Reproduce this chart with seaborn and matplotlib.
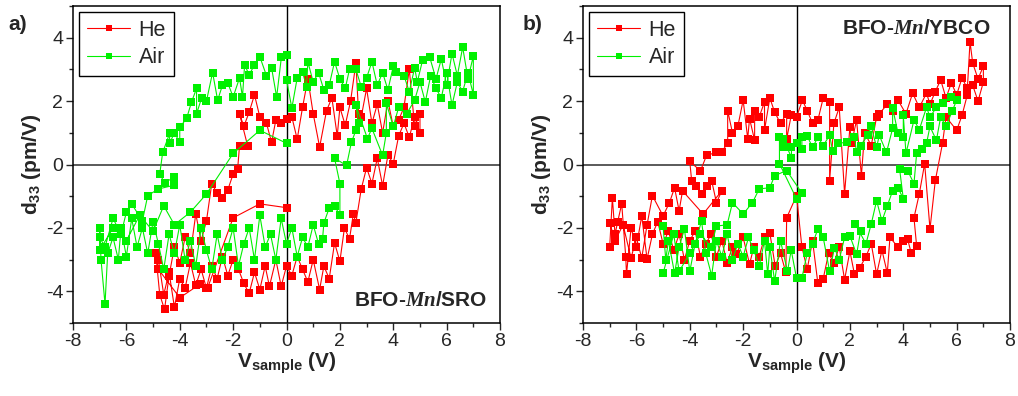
import numpy as np
import pandas as pd
import seaborn as sns
import matplotlib.pyplot as plt
from matplotlib.lines import Line2D
from matplotlib.ticker import MultipleLocator

# ---- panel a) BFO-Mn/SRO ----
a_he_v = [-4.8, -4.6, -4.4, -4.2, -4.0, -3.8, -3.6, -3.4, -3.2, -3.0, -2.8, -2.6, -2.4, -2.2, -2.0, -1.8,
          -1.6, -1.4, -1.2, -1.0, -0.8, -0.64, -0.4, -0.2, 0.0, 0.2, 0.4, 0.6, 0.8, 1.0, 1.24, 1.4, 1.6,
          1.8, 2.0, 2.17, 2.36, 2.5, 2.6, 2.8, 3.0, 3.2, 3.4, 3.6, 3.8, 4.0, 4.2, 4.4, 4.6, 4.8, 5.0,
          5.0, 4.8, 4.6, 4.4, 4.2, 4.0, 3.8, 3.6, 3.4, 3.2, 3.0, 2.8, 2.7, 2.6, 2.4, 2.2, 2.0, 1.9, 1.7,
          1.5, 1.24, 1.0, 0.8, 0.6, 0.4, 0.2, 0.0, -0.2, -0.4, -0.56, -0.75, -1.0, -1.2, -1.4, -1.6,
          -1.76, -1.46, -1.76, -1.83, -2.0, -2.2, -2.4, -2.6, -2.8, -3.0, -3.2, -3.4, -3.6, -3.8, -4.0,
          -4.2, -4.4, -4.57, -4.75, -4.9, -4.8, -4.0, -3.26, -2.96, -2.0, -1.0, 0.0]
a_he_d = [-3.0, -4.1, -3.4, -4.5, -3.6, -3.9, -3.1, -3.8, -3.3, -3.9, -3.2, -3.6, -2.9, -3.5, -3.0, -3.3,
          -3.75, -4.06, -3.4, -3.94, -3.2, -3.84, -3.0, -3.84, -3.2, -3.5, -2.9, -3.3, -3.7, -3.0, -3.94,
          -3.2, -3.6, -2.47, -3.05, -2.0, -2.35, -1.57, -1.83, -0.77, -0.1, -0.6, 0.2, -0.67, 0.3, 0.03,
          0.9, 1.3, 0.86, 1.5, 1.0,
          1.6, 1.2, 3.0, 1.8, 1.4, 1.2, 2.0, 1.0, 1.9, 1.3, 2.4, 1.5, 1.6, 3.2, 2.0, 1.24, 1.8, 0.9, 2.1,
          1.7, 0.55, 1.6, 2.7, 1.8, 0.8, 1.5, 1.45, 1.3, 1.4, 0.7, 1.3, 1.5, 2.2, 1.65, 1.2,
          1.6, 0.6, 0.6, -0.13, -0.3, -0.8, -1.05, -0.9, -0.6, -1.78, -2.4, -1.56, -2.8, -2.3, -3.1,
          -2.6, -3.5, -4.57, -4.1, -2.8, -3.3, -4.2, -3.78, -3.9, -1.68, -1.24, -1.36]

a_air_v = [0.0, -1.0, -2.0, -3.0, -3.6, -4.2, -4.6, -5.0, -5.5, -6.0, -6.5, -7.0,
           -7.0, -6.95, -6.8, -6.7, -6.5, -6.3, -6.2, -6.0, -5.8, -5.6, -5.4, -5.2, -5.0, -4.8, -4.6,
           -4.4, -4.2, -4.0, -3.8, -3.6, -3.4, -3.2, -3.0, -2.8, -2.6, -2.4, -2.2, -2.0, -1.8, -1.6,
           -1.4, -1.2, -1.0, -0.8, -0.6, -0.4, -0.2, 0.0, 0.2, 0.4, 0.6, 0.8, 1.0, 1.2, 1.35, 1.4, 1.6,
           1.8, 2.0, 2.0, 1.8, 2.25, 2.43, 2.6, 2.7, 2.6, 3.03, 3.2, 3.6, 3.74, 3.74, 4.0, 4.2, 4.5, 4.8,
           5.0, 5.2, 5.4, 5.6, 5.8, 6.0, 6.2, 6.4, 6.6, 6.8, 7.0,
           7.0, 6.8, 6.6, 6.4, 6.2, 6.0, 5.8, 5.6, 5.36, 5.1, 4.9, 4.8, 4.6, 4.4, 4.1, 4.0, 3.8, 3.6,
           3.4, 3.2, 3.0, 2.8, 2.6, 2.36, 2.2, 2.0, 1.8, 1.6, 1.4, 1.2, 1.0, 0.8, 0.75, 0.6, 0.4, 0.2,
           0.0, 0.0, -0.19, -0.37, -0.56, -0.75, -1.0, -1.2, -1.4, -1.57, -1.65, -1.76, -2.0, -2.2, -2.4,
           -2.58, -2.77, -3.0, -3.18, -3.37, -3.37, -3.56, -3.74, -4.0, -4.0, -4.2, -4.38, -4.38, -4.64,
           -4.75, -4.57, -4.2, -4.2, -4.8, -5.2, -5.4, -5.8, -6.0, -6.2, -6.5, -6.8, -7.0]
a_air_d = [0.67, 1.08, 0.35, -0.93, -1.5, -1.9, -1.3, -2.1, -1.6, -2.4, -2.0, -2.7,
           -2.0, -3.0, -4.4, -2.8, -2.3, -3.0, -2.0, -2.9, -1.7, -2.6, -2.0, -2.8, -1.8, -2.5, -3.3,
           -2.2, -2.8, -1.9, -3.0, -2.4, -3.2, -2.0, -2.7, -3.3, -2.2, -3.0, -2.6, -2.0, -3.2, -2.5,
           -2.0, -3.0, -1.6, -2.6, -2.2, -3.0, -1.7, -2.5, -2.0, -2.9, -2.3, -2.6, -1.9, -2.5, -2.35,
           -1.84, -1.37, -1.3, -1.6, -0.6, 0.2, -0.03, 0.7, 1.08, 1.3, 1.87, 0.82, 1.14, 0.29, 1.0,
           1.93, 1.2, 1.8, 1.6, 2.03, 2.6, 1.97, 2.8, 2.4, 2.1, 2.9, 1.87, 2.6, 2.3, 2.9, 2.2,
           3.43, 2.7, 3.7, 2.8, 3.5, 2.5, 3.33, 2.7, 3.4, 3.3, 2.6, 3.05, 2.3, 2.8, 2.92, 3.1, 2.35, 2.9,
           2.5, 3.24, 2.73, 2.45, 3.0, 3.0, 2.4, 2.7, 3.24, 2.5, 2.35, 2.9, 2.6, 3.24, 2.45, 2.92, 2.73,
           1.78, 2.67, 3.46, 3.4, 2.13, 3.05, 2.8, 3.4, 3.14, 2.83, 3.14, 2.13, 2.73, 2.13, 2.57, 2.5,
           2.03, 2.9, 2.0, 2.1, 1.6, 2.4, 1.97, 1.46, 1.17, 0.7, 1.0, 0.67, 0.98, 0.38,
           -0.3, -0.57, -0.4, -0.65, -0.77, -0.98, -1.78, -1.24, -1.5, -2.2, -1.7, -2.6, -2.3]

# ---- panel b) BFO-Mn/YBCO ----
b_he_v = [-7.0, -6.9, -6.8, -6.7, -6.55, -6.4, -6.37, -6.2, -6.0, -5.8, -5.6, -5.4, -5.2, -5.0, -4.8,
          -4.6, -4.4, -4.2, -4.0, -3.8, -3.6, -3.4, -3.2, -3.0, -2.8, -2.6, -2.4, -2.25, -2.0, -1.76,
          -1.6, -1.4, -1.2, -1.0, -0.8, -0.6, -0.4, -0.37, 0.0, 0.2, 0.4, 0.6, 0.8, 1.0, 1.2, 1.4, 1.6,
          1.8, 2.0, 2.17, 2.36, 2.6, 2.8, 3.0, 3.2, 3.4, 3.5, 3.8, 4.0, 4.16, 4.3, 4.5, 4.4, 4.6, 4.8,
          5.0, 5.2, 5.47, 5.6, 6.0, 6.2, 6.4, 6.6, 6.8, 7.0,
          7.0, 6.8, 6.6, 6.5, 6.4, 6.2, 6.0, 5.8, 5.6, 5.4, 5.2, 5.0, 4.87, 4.6, 4.35, 4.1, 3.8, 3.6,
          3.4, 3.1, 3.0, 2.8, 2.55, 2.43, 2.25, 2.06, 2.0, 1.8, 1.6, 1.4, 1.24, 1.24, 1.0, 0.8, 0.6, 0.4,
          0.22, 0.0, -0.2, -0.37, -0.37, -0.6, -0.82, -1.0, -1.2, -1.2, -1.4, -1.57, -1.57, -1.76, -1.83,
          -2.0, -2.2, -2.4, -2.58, -2.58, -2.8, -3.0, -3.37, -3.6, -4.0, -3.93, -3.75, -3.56, -3.37,
          -3.18, -3.0, -2.8, -3.5, -4.27, -4.4, -4.57, -4.76, -5.0, -5.4, -5.6, -5.8, -6.0, -6.2, -6.5,
          -6.8, -7.0]
b_he_d = [-2.6, -1.05, -2.2, -1.8, -1.24, -2.9, -3.46, -2.0, -2.6, -1.62, -2.98, -2.2, -1.8, -2.5, -2.1,
          -2.7, -2.2, -3.0, -2.4, -2.1, -2.9, -2.5, -2.2, -2.9, -2.4, -3.1, -2.6, -2.83, -2.3, -3.14,
          -2.6, -2.9, -2.3, -2.16, -3.2, -2.8, -3.4, -1.68, -0.98, -2.6, -3.3, -2.4, -3.75, -3.6, -2.8,
          -3.1, -2.6, -3.63, -2.73, -3.46, -3.27, -2.9, -2.5, -3.46, -2.7, -3.42, -2.3, -2.6, -2.4,
          -2.35, -2.8, -2.57, -1.68, -0.92, 0.03, -2.03, -0.5, 0.67, 1.5, 1.08, 1.55, 2.2, 2.5, 2.0, 2.6,
          3.1, 2.7, 3.2, 3.87, 2.4, 2.73, 2.2, 2.57, 2.1, 2.67, 2.3, 1.9, 2.25, 1.8, 2.25, 1.6, 2.03,
          1.7, 1.9, 1.6, 1.5, 0.6, 1.0, -0.35, 1.4, 0.67, 1.18, -0.92, 1.8, 1.3, -0.51, 1.97, 2.1, 1.4,
          1.3, 1.7, 2.03, 1.5, 1.55, 0.8, 1.6, 1.3, 1.65, 2.1, 1.08, 1.97, 1.5, 1.7, 0.76, 1.45, 0.82,
          2.03, 1.2, 1.0, 1.7, 0.67, 0.41, 0.38, 0.29, -0.2, 0.1, -0.51, -0.67, -0.92, -0.67, -0.51,
          -1.2, -0.83, -1.56, -0.83, -1.46, -0.73, -1.2, -1.62, -0.98, -1.9, -2.95, -2.3, -2.95, -1.9,
          -2.4, -1.84]

b_air_v = [-5.0, -4.9, -4.8, -4.57, -4.4, -4.2, -4.0, -3.8, -3.56, -3.4, -3.18, -3.0, -2.8, -2.6, -2.4,
           -2.2, -2.0, -1.8, -1.6, -1.4, -1.2, -1.08, -1.0, -0.82, -0.6, -0.34, -0.2, 0.0, 0.2, 0.4,
           0.6, 0.8, 1.0, 1.24, 1.42, 1.6, 1.8, 2.0, 2.25, 2.4, 2.2, 2.6, 2.8, 3.0, 3.2, 3.4, 3.6, 3.8,
           4.0, 3.86, 4.16, 4.4, 4.5, 4.7, 4.87, 5.0, 5.24, 5.4, 5.6, 5.84, 6.0,
           5.8, 5.47, 5.24, 5.0, 4.87, 4.6, 4.4, 4.1, 4.0, 4.0, 3.8, 3.6, 3.6, 3.37, 3.1, 3.0, 2.8, 2.67,
           2.4, 2.25, 2.17, 1.9, 1.54, 1.35, 1.24, 1.0, 0.8, 0.6, 0.4, 0.2, 0.2, 0.0, -0.19, -0.19, -0.5,
           -0.52, -0.64, -0.64, 0.0, 0.2, -0.37, -0.82, -1.0, -1.4, -1.65, -2.0, -2.4, -2.6, -3.0, -3.2,
           -3.6, -4.0, -4.4, -4.6, -5.0]
b_air_d = [-1.94, -3.0, -2.4, -3.43, -2.6, -2.03, -3.37, -2.5, -1.78, -2.8, -3.5, -2.4, -2.9, -2.2, -3.0,
           -2.5, -2.9, -2.3, -2.7, -3.2, -2.4, -3.46, -2.6, -3.68, -2.4, -3.37, -2.7, -3.58, -3.58, -2.8,
           -2.5, -2.03, -2.3, -3.37, -2.63, -3.0, -2.3, -2.25, -2.83, -2.1, -1.87, -2.5, -1.87, -1.14,
           -1.78, -1.3, -0.83, -0.73, -1.08, -0.13, -0.19, -0.6, 0.35, 0.5, 0.67, 1.2, 0.76, 1.5, 1.2,
           1.7, 2.03,
           2.13, 1.93, 1.8, 1.5, 1.8, 1.1, 1.4, 0.35, 1.55, 0.86, 1.0, 1.78, 1.14, 0.38, 0.92, 0.54, 1.2,
           0.92, 0.6, 0.38, 0.86, 0.7, 0.67, 0.44, 0.92, 0.6, 0.86, 0.54, 0.9, 0.86, 0.5, 0.67, 0.54,
           0.22, 0.82, 0.54, 0.86, 0.03, -1.08, -0.9, -0.19, -0.35, -0.73, -0.77, -1.2, -1.56, -1.2,
           -1.9, -1.94, -2.6, -2.2, -2.8, -3.37, -2.2, -3.43]

gas_labels = ['He', 'Air']
colors = {'He': '#ff0000', 'Air': '#00f000'}

panels = [
    ('a)', [(a_he_v, a_he_d), (a_air_v, a_air_d)]),
    ('b)', [(b_he_v, b_he_d), (b_air_v, b_air_d)]),
]

sns.set_style('ticks')
plt.rcParams['font.family'] = ['Liberation Sans', 'DejaVu Sans']
plt.rcParams['axes.unicode_minus'] = False
plt.rcParams['mathtext.fontset'] = 'custom'
plt.rcParams['mathtext.rm'] = 'Liberation Sans:bold'
plt.rcParams['mathtext.bf'] = 'Liberation Sans:bold'
plt.rcParams['mathtext.it'] = 'Liberation Serif:italic:bold'

fig = plt.figure(figsize=(10.18, 3.96), dpi=100)
ax_a = fig.add_axes([0.0717, 0.184, 0.4195, 0.801])
ax_b = fig.add_axes([0.5727, 0.184, 0.4195, 0.801])

for ax, (tag, series) in zip([ax_a, ax_b], panels):
    frames = []
    for gas, (v, d) in zip(gas_labels, series):
        frames.append(pd.DataFrame({'V': v, 'd33': d, 'gas': gas}))
    df = pd.concat(frames, ignore_index=True)
    for gas in gas_labels:
        sns.lineplot(data=df[df.gas == gas], x='V', y='d33', sort=False, estimator=None,
                     color=colors[gas], lw=0.8, marker='s', markersize=5.5,
                     markeredgewidth=0, ax=ax, legend=False)

    ax.axhline(0, color='0.3', lw=1.3, zorder=0)
    ax.axvline(0, color='k', lw=1.0, zorder=0)
    ax.set_xlim(-8, 8)
    ax.set_ylim(-5, 5)
    ax.xaxis.set_major_locator(MultipleLocator(2))
    ax.xaxis.set_minor_locator(MultipleLocator(1))
    ax.yaxis.set_major_locator(MultipleLocator(2))
    ax.yaxis.set_minor_locator(MultipleLocator(1))
    ax.set_yticks([-4, -2, 0, 2, 4])
    ax.tick_params(which='major', direction='out', length=5, width=1, labelsize=14, pad=2)
    ax.tick_params(which='minor', direction='out', length=3, width=1)
    for s in ax.spines.values():
        s.set_linewidth(1.1)
        s.set_color('k')
    ax.set_xlabel(r'V$_{\mathrm{sample}}$ (V)', fontsize=15, fontweight='bold', labelpad=1)
    ax.set_ylabel(r'd$_{\mathrm{33}}$ (pm/V)', fontsize=15, fontweight='bold', labelpad=2)

    handles = [Line2D([], [], color=colors[g], lw=0.8, marker='s', markersize=4,
                      markeredgewidth=0) for g in gas_labels]
    leg = ax.legend(handles, gas_labels, loc='upper left', fontsize=15.5, frameon=True,
                    fancybox=False, edgecolor='k', framealpha=1, handlelength=2.0,
                    handletextpad=0.4, borderpad=0.35, labelspacing=0.3,
                    borderaxespad=0.3)
    leg.get_frame().set_linewidth(1.0)

fig.text(0.008, 0.925, 'a)', fontsize=15, fontweight='bold')
fig.text(0.513, 0.925, 'b)', fontsize=15, fontweight='bold')

ax_a.text(0.97, 0.04, r'BFO-$\mathit{Mn}$/SRO', transform=ax_a.transAxes, ha='right',
          va='bottom', fontsize=15, fontweight='bold')
ax_b.text(0.78, 0.93, r'BFO-$\mathit{Mn}$/YBCO', transform=ax_b.transAxes, ha='center',
          va='center', fontsize=15, fontweight='bold')

fig.savefig('out.png', dpi=100)
